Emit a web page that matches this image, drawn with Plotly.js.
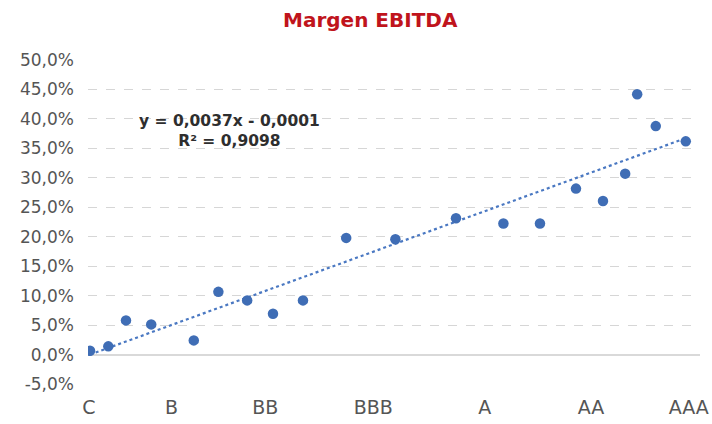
<!DOCTYPE html>
<html>
<head>
<meta charset="utf-8">
<script src="https://cdn.plot.ly/plotly-3.0.1.min.js"></script>
<style>html,body{margin:0;padding:0;background:#fff;}#chart{width:712px;height:424px;}</style>
</head>
<body>
<div id="chart"></div>
<script>
// Data (x: rating scale position 0-100, y: EBITDA margin)
const xValues = [0, 3.05, 6, 10.2, 17.3, 21.4, 26.2, 30.5, 35.5, 42.7, 50.9, 61, 68.9, 75, 81, 85.5, 89.2, 91.2, 94.3, 99.3];
const yValues = [0.0064, 0.0139, 0.058, 0.0512, 0.024, 0.1064, 0.0919, 0.0692, 0.0919, 0.198, 0.1958, 0.2314, 0.2224, 0.2224, 0.2817, 0.2607, 0.3071, 0.442, 0.3878, 0.3619];
const ratingLabels = ["C", "B", "BB", "BBB", "A", "AA", "AAA"];
const ratingPositions = [-0.2, 13.6, 29.2, 47.2, 65.8, 83.5, 99.8];
const yTickValues = [-0.05, 0, 0.05, 0.10, 0.15, 0.20, 0.25, 0.30, 0.35, 0.40, 0.45, 0.50];
const yTickLabels = ["-5,0%", "0,0%", "5,0%", "10,0%", "15,0%", "20,0%", "25,0%", "30,0%", "35,0%", "40,0%", "45,0%", "50,0%"];
const trendSlope = 0.0037;
const trendIntercept = -0.0001;
const equationText = "y = 0,0037x - 0,0001<br>R² = 0,9098";

const xMin = Math.min(...xValues), xMax = Math.max(...xValues);
const trendX = [xMin, xMax];
const trendY = trendX.map(x => trendSlope * x + trendIntercept);

const font = "'DejaVu Sans', Arial, sans-serif";

const traces = [
  {
    x: trendX, y: trendY, type: 'scatter', mode: 'lines',
    line: {color: '#4A78C2', width: 2.2, dash: 'dot'},
    hoverinfo: 'skip'
  },
  {
    x: xValues, y: yValues, type: 'scatter', mode: 'markers',
    marker: {color: '#3F6DB5', size: 10.5}
  }
];

const layout = {
  width: 712, height: 424,
  margin: {l: 88, r: 12, t: 60, b: 40},
  paper_bgcolor: '#fff', plot_bgcolor: '#fff',
  showlegend: false,
  hovermode: false,
  title: {
    text: '<b>Margen EBITDA</b>',
    font: {family: font, size: 20, color: '#C0141C'},
    x: 0.52, xanchor: 'center', y: 0.952, yanchor: 'middle'
  },
  xaxis: {
    range: [-0.333, 101.67],
    tickvals: ratingPositions, ticktext: ratingLabels,
    showgrid: false, zeroline: false, showline: false, ticks: '',
    ticklabelstandoff: 10,
    tickfont: {family: font, size: 19, color: '#555555'}
  },
  yaxis: {
    range: [-0.05, 0.5],
    tickvals: yTickValues, ticktext: yTickLabels,
    showgrid: true, gridcolor: '#D6D6D6', griddash: 'dash', gridwidth: 1,
    zeroline: true, zerolinecolor: '#D9D9D9', zerolinewidth: 2,
    showline: false, ticks: '',
    ticklabelstandoff: 13,
    tickfont: {family: font, size: 17, color: '#555555'}
  },
  annotations: [{
    xref: 'paper', yref: 'paper',
    x: (229 - 88) / 612, y: (384 - 131) / 324,
    xanchor: 'center', yanchor: 'middle', align: 'center',
    showarrow: false,
    text: '<b>' + equationText + '</b>',
    font: {family: font, size: 15.5, color: '#2E2E2E'}
  }]
};

Plotly.newPlot('chart', traces, layout, {displayModeBar: false, staticPlot: true});
</script>
</body>
</html>
